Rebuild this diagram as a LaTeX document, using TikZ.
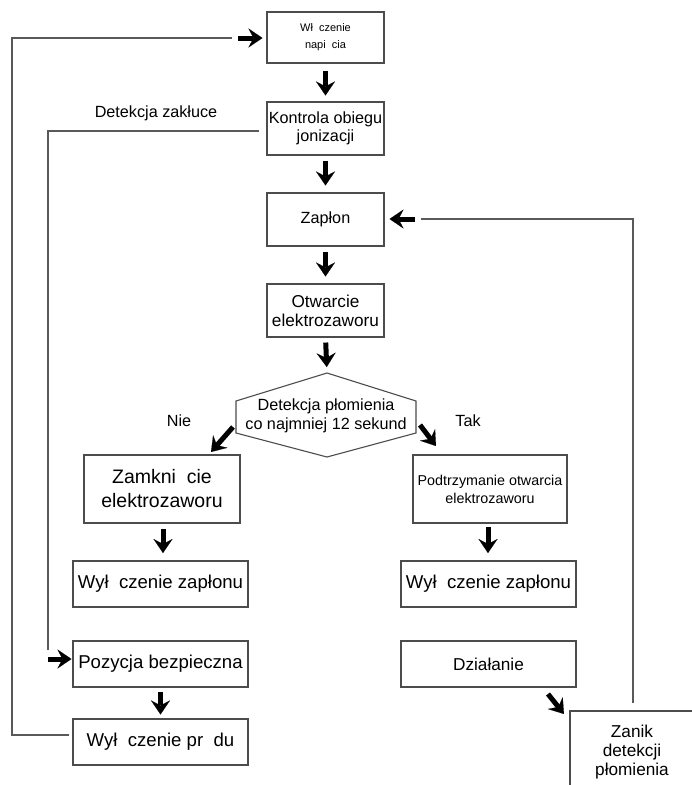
\documentclass[tikz,border=0pt]{standalone}
\usepackage{fontspec}
\setmainfont{Liberation Sans}
\usetikzlibrary{arrows.meta}
\begin{document}
\begin{tikzpicture}[x=1pt,y=-1pt,
  box/.style={draw=black!70, line width=1.1pt, inner sep=0pt, align=center, fill=white},
  conn/.style={draw=black!65, line width=1.1pt},
  blk/.style={draw=black, line width=5pt, -{Stealth[length=14pt,width=19pt,inset=5pt,line width=0.1pt]}},
  fa/.style={font=\fontsize{11}{17}\selectfont},
  fb/.style={font=\fontsize{14.3}{18}\selectfont},
  fc/.style={font=\fontsize{16.2}{18.5}\selectfont},
  fd/.style={font=\fontsize{17.2}{19}\selectfont},
  fe/.style={font=\fontsize{18.6}{22}\selectfont},
  ff/.style={font=\fontsize{19.5}{24}\selectfont},
  lbl/.style={inner sep=0pt, font=\fontsize{16.2}{18}\selectfont}]
\useasboundingbox (0,0) rectangle (692,785);

% boxes
\node[box,fa,minimum width=117pt,minimum height=51pt] (pw) at (325.5,37.5) {Wł~ czenie\\napi~ cia};
\node[box,fc,minimum width=117pt,minimum height=53pt] (kon) at (325.5,128.5) {Kontrola obiegu\\jonizacji};
\node[box,fc,minimum width=117pt,minimum height=53pt] (zap) at (325.5,219.5) {Zapłon};
\node[box,fd,minimum width=117pt,minimum height=53pt] (otw) at (325.5,310.5) {Otwarcie\\elektrozaworu};
\node[box,ff,minimum width=156pt,minimum height=68pt] (zam) at (162,489) {Zamkni~ cie\\elektrozaworu};
\node[box,fb,minimum width=154pt,minimum height=68pt] (pod) at (490,489) {Podtrzymanie otwarcia\\elektrozaworu};
\node[box,fe,minimum width=175pt,minimum height=46pt] (wz1) at (160.5,584) {Wył~ czenie zapłonu};
\node[box,fe,minimum width=175pt,minimum height=46pt] (wz2) at (488.5,584) {Wył~ czenie zapłonu};
\node[box,fe,minimum width=175pt,minimum height=46pt] (poz) at (160.5,664) {Pozycja bezpieczna};
\node[box,fd,minimum width=175pt,minimum height=46pt] (dzi) at (488.5,664) {Działanie};
\node[box,fe,minimum width=175pt,minimum height=46pt] (wpr) at (160.5,742) {Wył~ czenie pr~ du};

% decision hexagon
\draw[draw=black!70, line width=1.1pt] (236,401) -- (327,373) -- (416,401) -- (416,433) -- (327,457) -- (236,433) -- cycle;
\node[fc,align=center,inner sep=0pt] (det) at (326,416) {Detekcja płomienia\\co najmniej 12 sekund};

% Zanik box (open to the right and bottom)
\draw[draw=black!70, line width=1.1pt] (570,785) -- (570,711) -- (692,711);
\node[fd,align=center,inner sep=0pt] (zan) at (632,752) {Zanik\\detekcji\\płomienia};

% labels
\node[lbl] (ldz) at (156,113) {Detekcja zakłuce};
\node[lbl] (lnie) at (179,421) {Nie};
\node[lbl] (ltak) at (468,421) {Tak};

% straight arrows
\draw[blk,shorten <=7pt,shorten >=6pt] (pw.south) -- (kon.north);
\draw[blk,shorten <=5pt,shorten >=7pt] (kon.south) -- (zap.north);
\draw[blk,shorten <=5pt,shorten >=7pt] (zap.south) -- (otw.north);
\draw[blk,shorten <=5pt,shorten >=6pt] (otw.south) -- (327,373);
\draw[blk,shorten <=6pt,shorten >=8pt] (163,523) -- (163,561);
\draw[blk,shorten <=4pt,shorten >=8pt] (488,523) -- (488,561);
\draw[blk,shorten <=4pt,shorten >=4pt] (poz.south) -- (wpr.north);

% diagonal arrows
\coordinate (dl1) at (233,427); \coordinate (dl2) at (211,452);
\coordinate (dr1) at (420,425); \coordinate (dr2) at (436,446);
\coordinate (da1) at (548,694); \coordinate (da2) at (564,714);
\draw[blk] (dl1) -- (dl2);
\draw[blk] (dr1) -- (dr2);
\draw[blk] (da1) -- (da2);

% loop: Kontrola -> Pozycja bezpieczna
\coordinate (k1) at (48,650);
\draw[conn] ([xshift=-7pt,yshift=-2.5pt]kon.west) -| (k1);
\coordinate (k2) at (48,659);
\draw[blk,shorten >=1pt] (k2) -- (k2 -| poz.west);

% loop: Wylaczenie pradu -> Wlaczenie napiecia
\coordinate (w1) at (12,38);
\coordinate (w2) at (232,38);
\draw[conn] ([xshift=-3pt,yshift=7pt]wpr.west) -| (w1) -- (w2);
\coordinate (w3) at (238,38);
\draw[blk,shorten >=4pt] (w3) -- (w3 -| pw.west);

% loop: Zanik -> Zaplon
\coordinate (z1) at (633,703);
\coordinate (z2) at (421,219);
\draw[conn] (z1) |- (z2);
\coordinate (z3) at (415,219);
\draw[blk,shorten >=5pt] (z3) -- (z3 -| zap.east);
\end{tikzpicture}
\end{document}
